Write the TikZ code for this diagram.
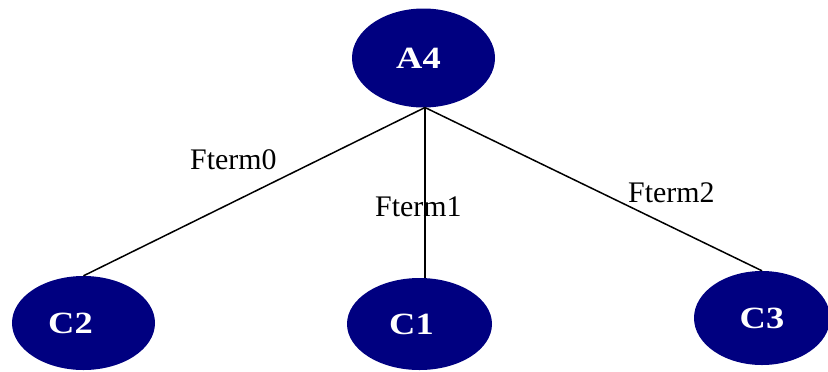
\documentclass[tikz,border=0pt]{standalone}
\usepackage{fontspec}
\setmainfont{Liberation Serif}
\usetikzlibrary{shapes.geometric}
\definecolor{navyfill}{RGB}{0,0,128}
\tikzset{
  treenode/.style={ellipse, fill=navyfill, draw=none, text=white,
    minimum width=143bp, minimum height=96bp, inner sep=0pt,
    font=\fontsize{31}{31}\selectfont\bfseries},
  edgelabel/.style={anchor=base west, inner sep=0pt, text=black,
    font=\fontsize{30}{30}\selectfont},
  edge/.style={draw=black, line width=1.5bp}
}
\newcommand{\wide}[1]{\scalebox{1.18}[1]{#1}}
\begin{document}
\begin{tikzpicture}[x=1bp, y=-1bp]
  \useasboundingbox (0,0) rectangle (828,371);
  % nodes of the tree
  \node[treenode, minimum height=99bp] (A4) at (423.5,58) {\kern-10bp\wide{A4}};
  \node[treenode, minimum height=94bp] (C2) at (83.5,323) {\kern-26bp\wide{C2}};
  \node[treenode, minimum width=145bp, minimum height=92bp] (C1) at (419.5,324) {\kern-16bp\wide{C1}};
  \node[treenode, minimum width=136bp, minimum height=94bp] (C3) at (762,318) {\wide{C3}};
  % common start point of the edges under A4
  \coordinate (fork) at (425,107.5);
  \path[edge] (fork) -- (C2.north);
  \path[edge] (fork) -- (fork |- C1.north);
  \path[edge] (fork) -- (C3.north);
  % edge labels
  \node[edgelabel] (l0) at (190,169.5) {Fterm0};
  \node[edgelabel] (l1) at (375,216) {Fterm1};
  \node[edgelabel] (l2) at (628,202) {Fterm2};
\end{tikzpicture}
\end{document}
